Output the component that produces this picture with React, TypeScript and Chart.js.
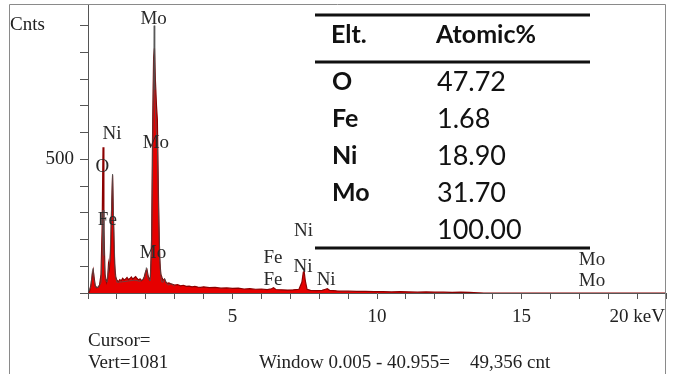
import { useEffect, useRef } from "react";
import { Chart, registerables } from "chart.js";

Chart.register(...registerables);

// EDS spectrum: energy (keV) and counts per channel
const energyKeV = [
  0.0, 0.05, 0.1, 0.15, 0.18, 0.21, 0.25, 0.3, 0.35, 0.4, 0.45, 0.49, 0.52, 0.55, 0.59, 0.64, 0.68, 0.71, 0.74,
  0.78, 0.82, 0.85, 0.88, 0.92, 0.96, 1.0, 1.05, 1.1, 1.15, 1.2, 1.25, 1.3, 1.35, 1.4, 1.45, 1.5, 1.55, 1.6, 1.65,
  1.7, 1.75, 1.8, 1.85, 1.9, 1.95, 2.0, 2.04, 2.08, 2.12, 2.16, 2.2, 2.24, 2.27, 2.3, 2.33, 2.37, 2.4, 2.44, 2.48,
  2.52, 2.56, 2.6, 2.65, 2.7, 2.75, 2.8, 2.9, 3.0, 3.1, 3.2, 3.3, 3.4, 3.5, 3.6, 3.7, 3.8, 3.9, 4.0, 4.2, 4.4, 4.6,
  4.8, 5.0, 5.2, 5.4, 5.6, 5.8, 6.0, 6.2, 6.35, 6.42, 6.5, 6.7, 6.9, 7.1, 7.3, 7.4, 7.45, 7.48, 7.52, 7.58, 7.7,
  7.9, 8.1, 8.22, 8.28, 8.36, 8.6, 8.8, 9.0, 9.3, 9.6, 9.9, 10.2, 10.5, 10.8, 11.1, 11.4, 11.7, 12.0, 12.3, 12.6,
  12.9, 13.2, 13.5, 13.7, 20.0,
];
const spectrumCounts = [
  0, 5, 30, 70, 86, 60, 28, 20, 22, 30, 70, 250, 545, 240, 70, 40, 55, 110, 90,
  150, 330, 440, 280, 110, 60, 48, 42, 50, 46, 55, 49, 52, 58, 50, 54, 60, 52, 57, 61,
  54, 49, 53, 46, 50, 62, 82, 88, 65, 50, 60, 200, 650, 880, 915, 800, 700, 650, 350, 130,
  70, 58, 48, 52, 40, 36, 38, 33, 30, 31, 27, 29, 25, 26, 23, 25, 22, 21, 23, 20, 21, 18,
  19, 17, 18, 15, 16, 14, 15, 13, 16, 20, 13, 12, 11, 12, 14, 40, 78, 80, 45, 14, 10,
  9, 10, 14, 16, 10, 8, 7, 7, 6, 6, 5, 5, 4, 5, 4, 3, 4, 3, 3, 2,
  3, 2, 1, 0, 0,
];

// Second (grey) trace over the low-energy region
const outlineKeV = [
  0.0, 0.1, 0.15, 0.18, 0.21, 0.26, 0.35, 0.45, 0.49, 0.52, 0.55, 0.6, 0.66, 0.71, 0.76, 0.81, 0.85, 0.89, 0.94,
  1.0, 1.2, 1.4, 1.6, 1.8, 1.95, 2.02, 2.08, 2.15, 2.2, 2.25, 2.29, 2.31, 2.35, 2.4, 2.45, 2.5, 2.55, 2.6, 2.65,
  2.7, 2.78, 2.88, 3.0,
];
const outlineCounts = [
  0, 25, 80, 92, 50, 22, 20, 40, 150, 310, 140, 50, 40, 90, 120, 300, 445, 250, 70,
  40, 42, 45, 48, 44, 55, 95, 55, 45, 160, 650, 1000, 760, 620, 560, 260, 90, 42, 40, 55,
  38, 30, 35, 25,
];

// Element line markers
const peakLabelText = ["Mo", "Ni", "Mo", "O", "Fe", "Mo", "Ni", "Fe", "Ni", "Fe", "Ni", "Mo", "Mo"];
const peakLabelKeV = [2.27, 0.83, 2.35, 0.5, 0.67, 2.25, 7.46, 6.4, 7.44, 6.4, 8.24, 17.44, 17.44];
const peakLabelCnt = [1025, 595, 561, 471, 273, 150, 232, 129, 97, 47, 49, 123, 43];

// x-axis labels
const xLabelValues = [5, 10, 15, 20];
const xLabelText = ["5", "10", "15", "20 keV"];

// Quantification table
const tableHeader = ["Elt.", "Atomic%"];
const tableElements = ["O", "Fe", "Ni", "Mo", ""];
const tableAtomic = ["47.72", "1.68", "18.90", "31.70", "100.00"];

const SERIF = "'Liberation Serif', 'Times New Roman', serif";
const SANS = "Lato, 'Open Sans', sans-serif";

const overlayPlugin = {
  id: "edsOverlay",
  afterDraw(chart: any) {
    const ctx = chart.ctx as CanvasRenderingContext2D;
    const xs = chart.scales.x;
    const ys = chart.scales.y;
    ctx.save();

    // outer frame
    ctx.strokeStyle = "#8a8a8a";
    ctx.lineWidth = 1;
    ctx.beginPath();
    ctx.moveTo(9.5, 380);
    ctx.lineTo(9.5, 4.5);
    ctx.lineTo(665.5, 4.5);
    ctx.lineTo(665.5, 380);
    ctx.stroke();

    ctx.fillStyle = "#222";
    ctx.font = `19px ${SERIF}`;
    ctx.textBaseline = "middle";
    ctx.textAlign = "left";
    ctx.fillText("Cnts", 10, 25);

    // x tick labels
    xLabelValues.forEach((v, i) => {
      const px = xs.getPixelForValue(v);
      if (i === xLabelValues.length - 1) {
        ctx.textAlign = "right";
        ctx.fillText(xLabelText[i], px - 1, 317);
      } else {
        ctx.textAlign = "center";
        ctx.fillText(xLabelText[i], px, 317);
      }
    });

    // footer
    ctx.textAlign = "left";
    ctx.fillText("Cursor=", 88, 341);
    ctx.fillText("Vert=1081", 88, 363);
    ctx.fillText("Window 0.005 - 40.955=", 259, 363);
    ctx.fillText("49,356 cnt", 470, 363);

    // element labels
    ctx.fillStyle = "#2a2a2a";
    ctx.textAlign = "center";
    peakLabelText.forEach((t, i) => {
      ctx.fillText(t, xs.getPixelForValue(peakLabelKeV[i]), ys.getPixelForValue(peakLabelCnt[i]));
    });

    // table
    ctx.strokeStyle = "#111";
    ctx.lineWidth = 3;
    [15, 62, 248].forEach((y) => {
      ctx.beginPath();
      ctx.moveTo(315, y);
      ctx.lineTo(590, y);
      ctx.stroke();
    });
    ctx.fillStyle = "#111";
    ctx.textAlign = "left";
    ctx.font = `bold 25px ${SANS}`;
    ctx.fillText(tableHeader[0], 331, 35);
    ctx.fillText(tableHeader[1], 436, 35);
    tableElements.forEach((el, i) => {
      const y = 82 + i * 37;
      ctx.font = `bold 25px ${SANS}`;
      ctx.fillText(el, 332, y);
      ctx.font = `27px ${SANS}`;
      ctx.fillText(tableAtomic[i], 437, y);
    });

    ctx.restore();
  },
};

export default function App() {
  const canvasRef = useRef<HTMLCanvasElement | null>(null);

  useEffect(() => {
    const canvas = canvasRef.current;
    if (!canvas) return;
    const chart = new Chart(canvas, {
      type: "line",
      data: {
        datasets: [
          {
            label: "outline",
            data: outlineKeV.map((e, i) => ({ x: e, y: outlineCounts[i] })),
            borderColor: "rgba(80,80,80,0.75)",
            borderWidth: 1,
            pointRadius: 0,
            fill: false,
            tension: 0,
          },
          {
            label: "spectrum",
            data: energyKeV.map((e, i) => ({ x: e, y: spectrumCounts[i] })),
            borderColor: "#8c0000",
            backgroundColor: "#e60000",
            borderWidth: 1.2,
            pointRadius: 0,
            fill: "origin",
            tension: 0,
          },
        ],
      },
      options: {
        animation: false,
        responsive: false,
        devicePixelRatio: 1,
        layout: { padding: { top: 4, right: 7, bottom: 0, left: 0 } },
        plugins: { legend: { display: false }, tooltip: { enabled: false } },
        scales: {
          x: {
            type: "linear",
            min: 0,
            max: 20,
            ticks: { stepSize: 1, autoSkip: false, maxRotation: 0, callback: () => "" },
            grid: { drawOnChartArea: false, drawTicks: true, tickLength: 6, color: "#555", tickColor: "#555" },
            border: { display: true, color: "#555", width: 1 },
            afterFit: (s: any) => {
              s.height = 81;
              s.paddingLeft = 0;
              s.paddingRight = 0;
            },
          },
          y: {
            min: 0,
            max: 1081,
            ticks: {
              stepSize: 100,
              includeBounds: false,
              padding: 6,
              color: "#222",
              font: { family: SERIF, size: 19 },
              callback: (v: any) => (v === 500 ? "500" : ""),
            },
            grid: { drawOnChartArea: false, drawTicks: true, tickLength: 8, color: "#555", tickColor: "#555" },
            border: { display: true, color: "#555", width: 1 },
            afterFit: (s: any) => {
              s.width = 88;
              s.paddingTop = 0;
              s.paddingBottom = 0;
            },
          },
        },
      },
      plugins: [overlayPlugin],
    });
    return () => chart.destroy();
  }, []);

  return (
    <div style={{ position: "absolute", left: 0, top: 0, width: 673, height: 374, background: "#fff" }}>
      <canvas ref={canvasRef} width={673} height={374} style={{ width: 673, height: 374, display: "block" }} />
    </div>
  );
}
